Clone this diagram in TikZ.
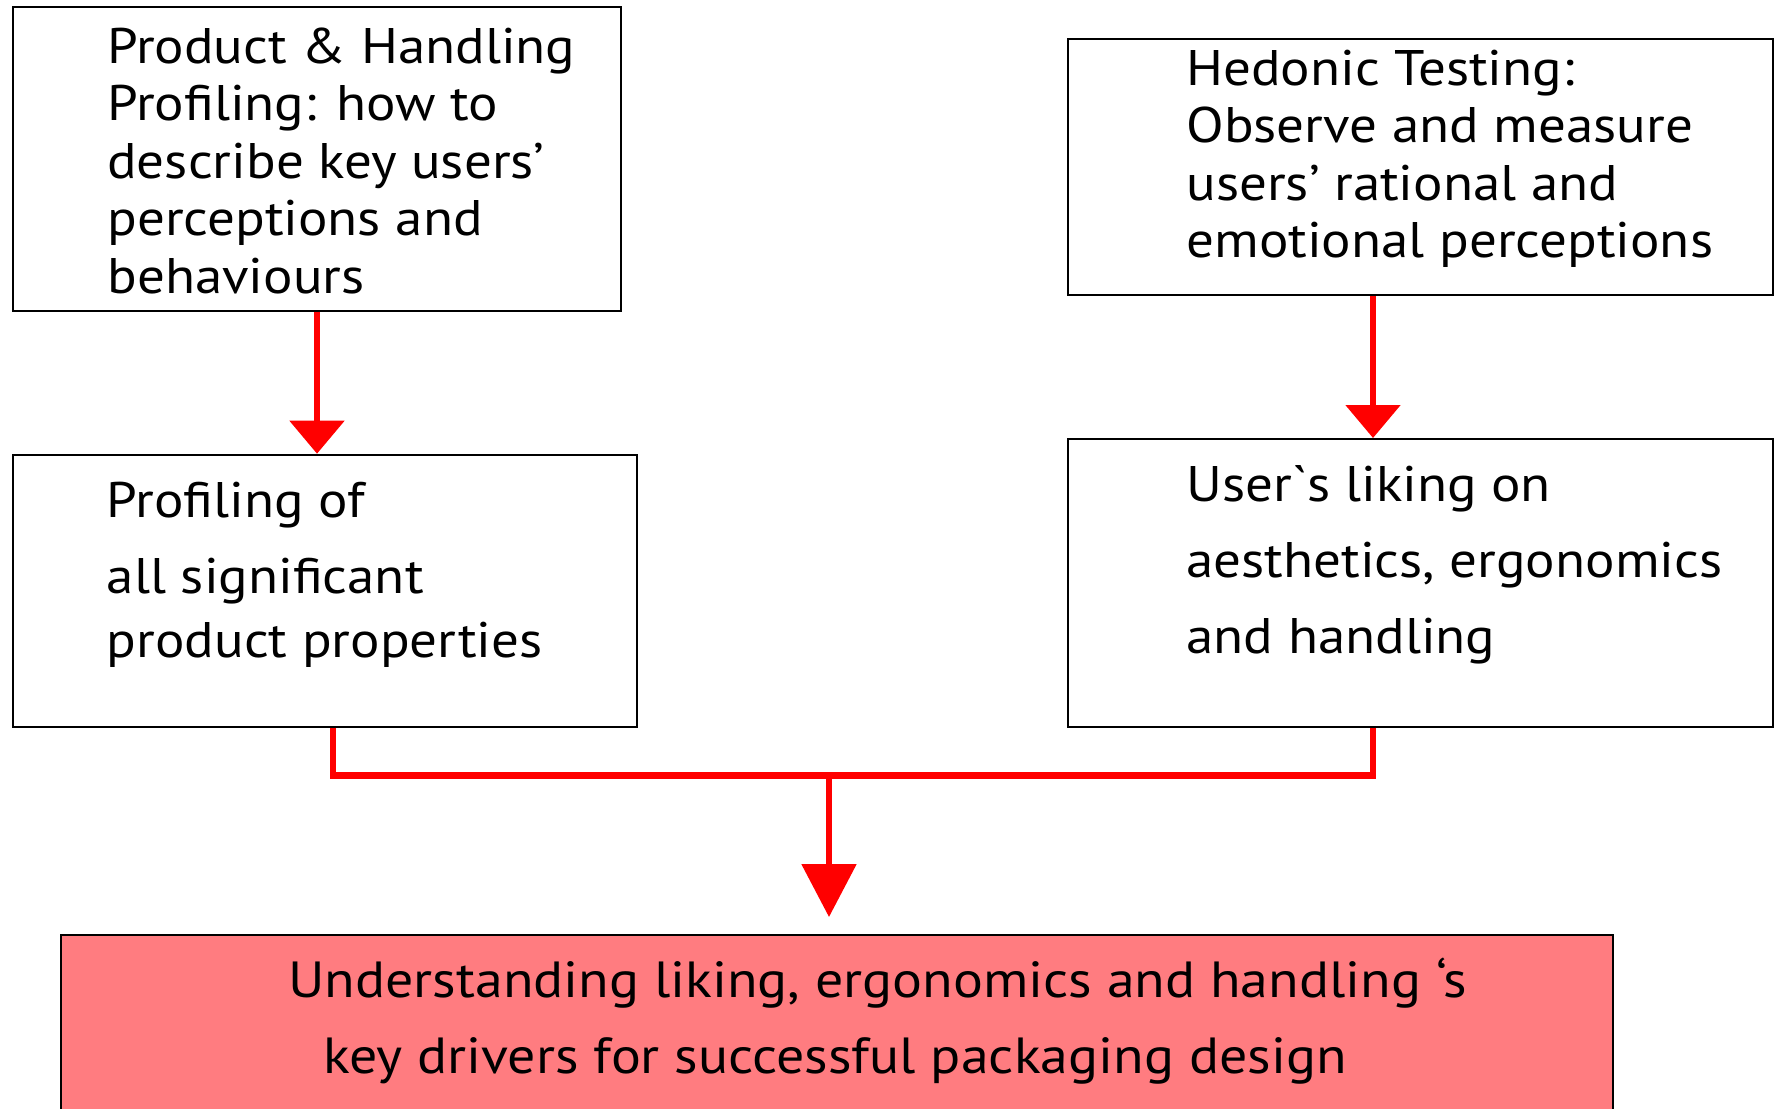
\documentclass[tikz,border=0pt]{standalone}
\usepackage{fontspec}
\newfontfamily\din{PT Sans}[FakeStretch=1.10]
\usetikzlibrary{arrows.meta,fit}
\definecolor{boxred}{RGB}{255,124,128}
\definecolor{linered}{RGB}{255,0,0}
\tikzset{
  box/.style={draw=black,line width=1pt,inner sep=0pt,fill=white},
  redbox/.style={draw=black,line width=1pt,inner sep=0pt,fill=boxred},
  txt/.style={anchor=north west,inner sep=0pt,align=left,font=\din\fontsize{25}{28.75}\selectfont},
  bigtxt/.style={anchor=north west,inner sep=0pt,align=left,font=\din\fontsize{25.4}{31}\selectfont},
  conn/.style={draw=linered,line width=2.75pt},
  smallhead/.style={conn,-{Triangle[width=27pt,length=16.5pt]}},
  bighead/.style={conn,-{Triangle[width=27pt,length=26.5pt]}}
}
\begin{document}
\begin{tikzpicture}[x=0.5pt,y=-0.5pt]
\clip (0,0) rectangle (1777,1108);
\fill[white] (0,0) rectangle (1777,1108);
% boxes
\node[box,fit={(12.5,6.7) (621,310.7)}] (b1) {};
\node[box,fit={(1068,39) (1773,295)}] (b2) {};
\node[box,fit={(12.8,454.7) (637,726.7)}] (b3) {};
\node[box,fit={(1068,439) (1773,726.7)}] (b4) {};
\node[redbox,fit={(61,935) (1613,1130)}] (b5) {};
% texts
\node[txt] (t1) at (107,23) {\rule{0pt}{20pt}Product \& Handling\\Profiling: how to\\describe key users’\\perceptions and\\behaviours};
\node[txt] (t2) at (1186,45) {\rule{0pt}{20pt}Hedonic Testing:\\Observe and measure\\users’ rational and\\emotional perceptions};
\node[txt] (t3) at (106.5,476.7) {\rule{0pt}{20pt}Profiling of\\[9.4pt]all significant\\[3.25pt]product properties};
\node[txt] (t4) at (1186,460.7) {\rule{0pt}{20pt}User`s liking on\\[9.3pt]aesthetics, ergonomics\\[9.3pt]and handling};
\node[bigtxt] (t5) at (288,952.7) {\rule{0pt}{22pt}Understanding liking, ergonomics and handling ‘s\\[7.15pt]\hspace*{17.5pt}key drivers for successful packaging design};
% connector coordinates
\coordinate (xl) at (317,0);
\coordinate (xr) at (1373,0);
\coordinate (jl) at (333,775);
\coordinate (jr) at (1373,775);
\coordinate (jm) at (829,775);
% arrows
\draw[smallhead] (b1.south -| xl) -- (b3.north -| xl);
\draw[smallhead] (b2.south -| xr) -- (b4.north -| xr);
\draw[conn] (b3.south -| jl) -- (jl);
\draw[conn] (b4.south -| jr) -- (jr);
\draw[conn,line width=3.5pt] ([xshift=-1.375pt]jl) -- ([xshift=1.375pt]jr);
\draw[bighead,shorten >=8.5pt] (jm) -- (b5.north -| jm);
\end{tikzpicture}
\end{document}
